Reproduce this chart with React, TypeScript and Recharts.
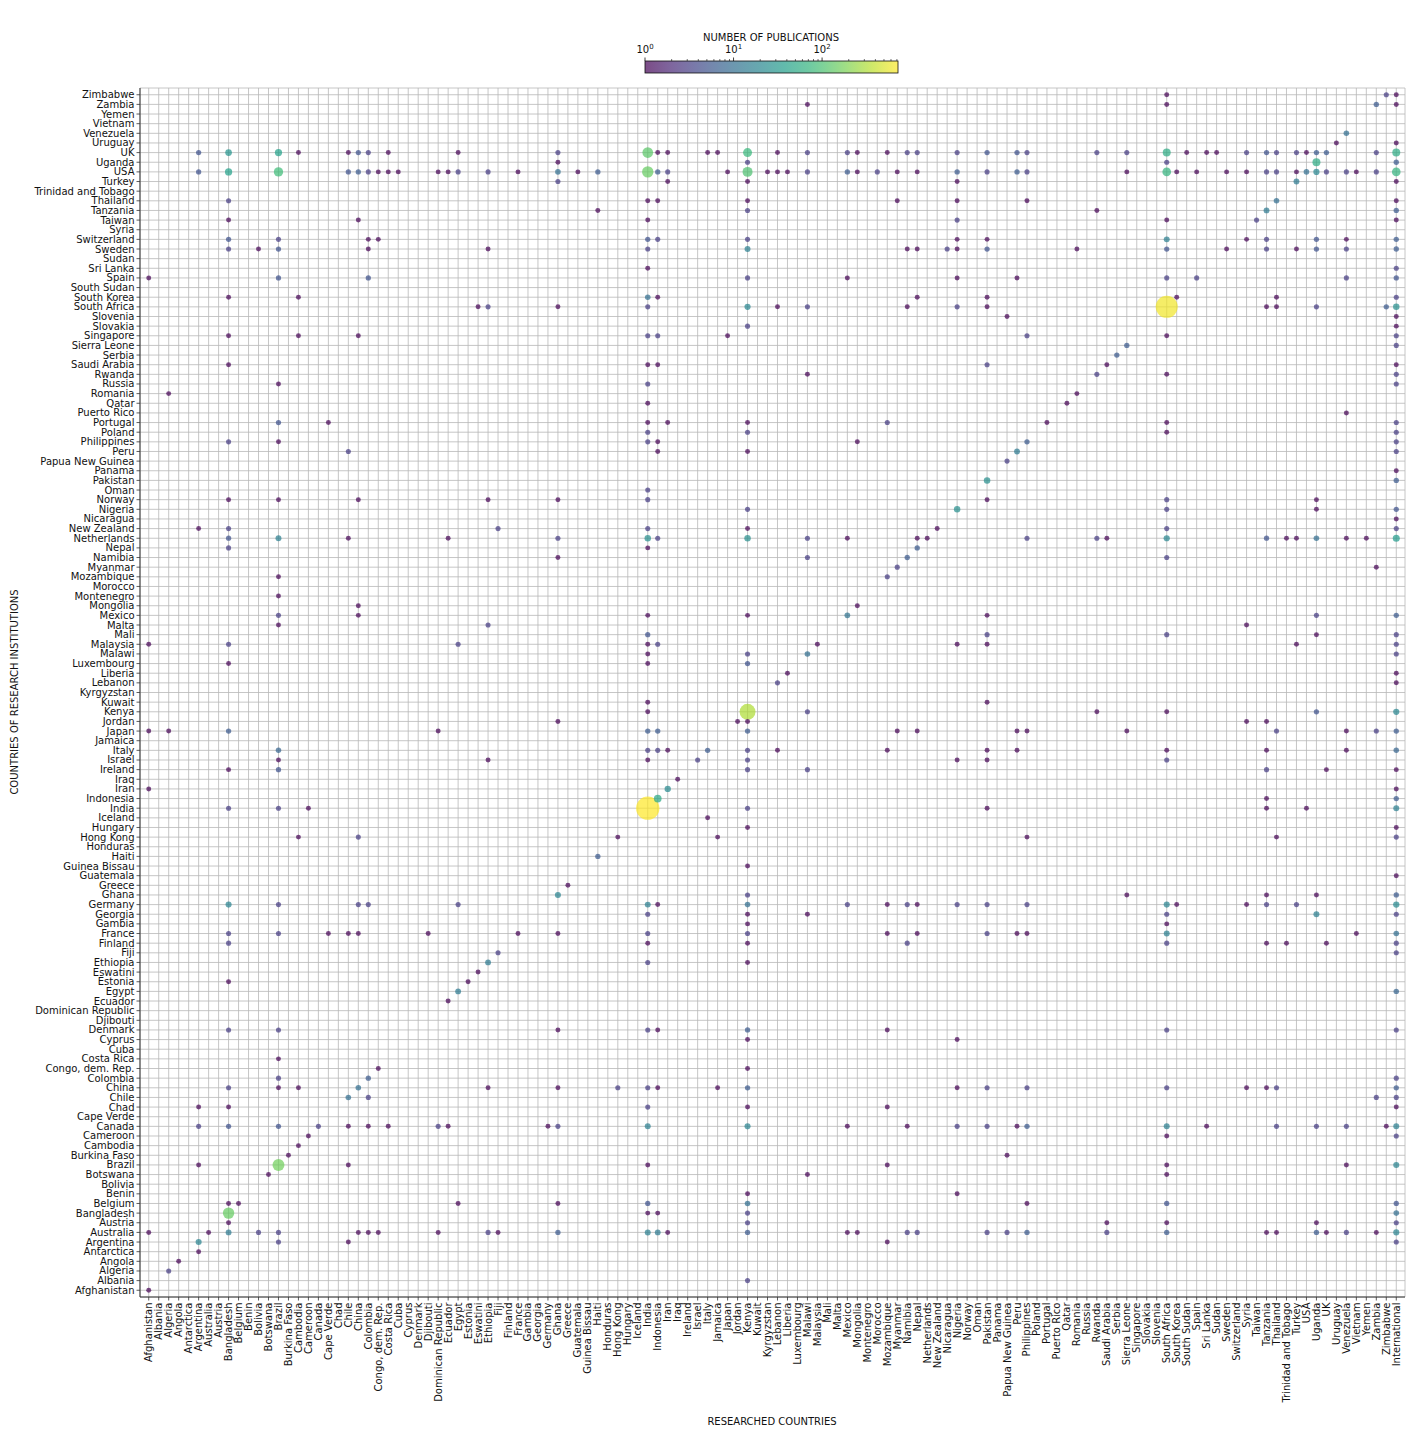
import React from "react";
import { ScatterChart, Scatter, XAxis, YAxis, CartesianGrid } from "recharts";

// ---------- categories ----------
const countries: string[] = [
  "Afghanistan","Albania","Algeria","Angola","Antarctica","Argentina","Australia","Austria","Bangladesh","Belgium",
  "Benin","Bolivia","Botswana","Brazil","Burkina Faso","Cambodia","Cameroon","Canada","Cape Verde","Chad",
  "Chile","China","Colombia","Congo, dem. Rep.","Costa Rica","Cuba","Cyprus","Denmark","Djibouti","Dominican Republic",
  "Ecuador","Egypt","Estonia","Eswatini","Ethiopia","Fiji","Finland","France","Gambia","Georgia",
  "Germany","Ghana","Greece","Guatemala","Guinea Bissau","Haiti","Honduras","Hong Kong","Hungary","Iceland",
  "India","Indonesia","Iran","Iraq","Ireland","Israel","Italy","Jamaica","Japan","Jordan",
  "Kenya","Kuwait","Kyrgyzstan","Lebanon","Liberia","Luxembourg","Malawi","Malaysia","Mali","Malta",
  "Mexico","Mongolia","Montenegro","Morocco","Mozambique","Myanmar","Namibia","Nepal","Netherlands","New Zealand",
  "Nicaragua","Nigeria","Norway","Oman","Pakistan","Panama","Papua New Guinea","Peru","Philippines","Poland",
  "Portugal","Puerto Rico","Qatar","Romania","Russia","Rwanda","Saudi Arabia","Serbia","Sierra Leone","Singapore",
  "Slovakia","Slovenia","South Africa","South Korea","South Sudan","Spain","Sri Lanka","Sudan","Sweden","Switzerland",
  "Syria","Taiwan","Tanzania","Thailand","Trinidad and Tobago","Turkey","USA","Uganda","UK","Uruguay",
  "Venezuela","Vietnam","Yemen","Zambia","Zimbabwe"
];
const researchedCountries: string[] = [...countries, "International"];
const institutionCountries: string[] = countries;

// colour bar
const colorbarMax = 720;
const colorbarMajorTicks = [1, 10, 100];

// ---------- publications: [institution country, [[researched country, count], ...]] ----------
type Row = [string, [string, number][]];

const pubsAtoG: Row[] = [
  ["Afghanistan", [["Afghanistan",1]]],
  ["Albania", [["Kenya",3]]],
  ["Algeria", [["Algeria",3]]],
  ["Angola", [["Angola",1]]],
  ["Antarctica", [["Argentina",1]]],
  ["Argentina", [["Argentina",18],["Brazil",3],["Chile",1],["Mozambique",1],["International",3]]],
  ["Australia", [["Afghanistan",1],["Australia",1],["Bangladesh",14],["Bolivia",3],["Brazil",3],["China",1],["Colombia",1],["Congo, dem. Rep.",1],["Dominican Republic",1],["Ethiopia",3],["Fiji",1],["Ghana",6],["India",16],["Indonesia",14],["Iran",1],["Kenya",6],["Mexico",1],["Mongolia",1],["Namibia",3],["Nepal",3],["Pakistan",3],["Papua New Guinea",3],["Philippines",6],["Saudi Arabia",3],["South Africa",6],["Tanzania",1],["Thailand",1],["Uganda",6],["UK",1],["Venezuela",3],["Zambia",1],["International",18]]],
  ["Austria", [["Bangladesh",1],["Kenya",3],["Saudi Arabia",1],["South Africa",1],["Uganda",1],["International",3]]],
  ["Bangladesh", [["Bangladesh",145],["India",1],["Indonesia",1],["Kenya",3],["International",10]]],
  ["Belgium", [["Bangladesh",1],["Belgium",1],["Egypt",1],["Ghana",1],["India",5],["Kenya",10],["Philippines",1],["South Africa",5],["International",5]]],
  ["Benin", [["Kenya",1],["Nigeria",1]]],
  ["Botswana", [["Botswana",1],["Malawi",1],["South Africa",1]]],
  ["Brazil", [["Argentina",1],["Brazil",165],["Chile",1],["India",1],["Mozambique",1],["South Africa",1],["Venezuela",1],["International",18]]],
  ["Burkina Faso", [["Burkina Faso",1],["Papua New Guinea",1]]],
  ["Cambodia", [["Cambodia",1]]],
  ["Cameroon", [["Cameroon",1],["South Africa",1],["International",3]]],
  ["Canada", [["Argentina",3],["Bangladesh",5],["Brazil",5],["Canada",3],["Chile",1],["Colombia",1],["Costa Rica",1],["Dominican Republic",3],["Ecuador",1],["Germany",1],["Ghana",3],["India",16],["Kenya",18],["Mexico",1],["Namibia",1],["Nigeria",3],["Pakistan",3],["Peru",1],["Philippines",6],["South Africa",16],["Sri Lanka",1],["Thailand",3],["Uganda",3],["Venezuela",3],["Zimbabwe",1],["International",16]]],
  ["Chad", [["Argentina",1],["Bangladesh",1],["India",3],["Kenya",1],["Mozambique",1],["International",1]]],
  ["Chile", [["Chile",10],["Colombia",3],["Zambia",3],["International",3]]],
  ["China", [["Bangladesh",3],["Brazil",1],["Cambodia",1],["China",10],["Ethiopia",1],["Ghana",1],["Hong Kong",3],["India",3],["Indonesia",1],["Jamaica",1],["Kenya",6],["Nigeria",1],["Pakistan",3],["Philippines",3],["South Africa",3],["Syria",1],["Tanzania",1],["Thailand",3],["International",6]]],
  ["Colombia", [["Brazil",3],["Colombia",6],["International",3]]],
  ["Congo, dem. Rep.", [["Congo, dem. Rep.",1],["Kenya",1]]],
  ["Costa Rica", [["Brazil",1]]],
  ["Cyprus", [["Kenya",1],["Nigeria",1]]],
  ["Denmark", [["Bangladesh",3],["Brazil",3],["Ghana",1],["India",3],["Indonesia",1],["Kenya",6],["Mozambique",1],["South Africa",3],["International",3]]],
  ["Ecuador", [["Ecuador",1]]],
  ["Egypt", [["Egypt",14],["International",8]]],
  ["Estonia", [["Bangladesh",1],["Estonia",1]]],
  ["Eswatini", [["Eswatini",1]]],
  ["Ethiopia", [["Ethiopia",14],["India",3],["Kenya",1]]],
  ["Fiji", [["Fiji",3],["International",3]]],
  ["Finland", [["Bangladesh",3],["India",1],["Kenya",1],["Namibia",3],["South Africa",3],["Tanzania",1],["Trinidad and Tobago",1],["UK",1],["International",3]]],
  ["France", [["Bangladesh",3],["Brazil",3],["Cape Verde",1],["Chile",1],["China",1],["Djibouti",1],["France",1],["Ghana",1],["India",3],["Kenya",3],["Mozambique",1],["Nepal",1],["Pakistan",3],["Peru",1],["Philippines",1],["South Africa",16],["Vietnam",1],["International",10]]],
  ["Gambia", [["Kenya",1],["South Africa",1]]],
  ["Georgia", [["India",3],["Kenya",1],["Malawi",1],["South Africa",3],["Uganda",16],["International",3]]],
  ["Germany", [["Bangladesh",18],["Brazil",3],["China",3],["Colombia",3],["Egypt",3],["India",16],["Indonesia",1],["Kenya",10],["Mexico",3],["Mozambique",1],["Namibia",3],["Nepal",1],["Nigeria",3],["Pakistan",3],["Philippines",3],["South Africa",18],["South Korea",1],["Syria",1],["Tanzania",3],["Turkey",3],["International",22]]],
  ["Ghana", [["Ghana",18],["Kenya",3],["Sierra Leone",1],["Tanzania",1],["Uganda",1],["International",6]]],
  ["Greece", [["Greece",1]]],
  ["Guatemala", [["International",1]]],
  ["Guinea Bissau", [["Kenya",1]]],
];

const pubsHtoN: Row[] = [
  ["Haiti", [["Haiti",6]]],
  ["Hong Kong", [["Cambodia",1],["China",3],["Hong Kong",1],["Jamaica",1],["Philippines",1],["Thailand",1],["International",3]]],
  ["Hungary", [["Kenya",1],["International",1]]],
  ["Iceland", [["Italy",1]]],
  ["India", [["Bangladesh",3],["Brazil",3],["Cameroon",1],["India",720],["Kenya",3],["Pakistan",1],["Tanzania",1],["USA",1],["International",16]]],
  ["Indonesia", [["Indonesia",50],["Tanzania",1],["International",6]]],
  ["Iran", [["Afghanistan",1],["Iran",22],["International",1]]],
  ["Iraq", [["Iraq",1]]],
  ["Ireland", [["Bangladesh",1],["Brazil",5],["Kenya",3],["Malawi",3],["Tanzania",3],["UK",1],["International",1]]],
  ["Israel", [["Brazil",1],["Ethiopia",1],["India",1],["Israel",3],["Kenya",3],["Nigeria",1],["Pakistan",1],["South Africa",3]]],
  ["Italy", [["Brazil",8],["India",3],["Indonesia",3],["Iran",1],["Italy",6],["Kenya",3],["Lebanon",1],["Mozambique",1],["Pakistan",1],["Peru",1],["South Africa",1],["Tanzania",1],["Venezuela",1],["International",8]]],
  ["Japan", [["Afghanistan",1],["Algeria",1],["Bangladesh",6],["Dominican Republic",1],["India",6],["Indonesia",6],["Kenya",6],["Myanmar",1],["Nepal",1],["Peru",1],["Philippines",1],["Sierra Leone",1],["Thailand",3],["Venezuela",1],["Zambia",3],["International",6]]],
  ["Jordan", [["Ghana",1],["Jordan",1],["Kenya",1],["Syria",1],["Tanzania",1]]],
  ["Kenya", [["India",1],["Kenya",320],["Malawi",3],["Rwanda",1],["South Africa",1],["Uganda",5],["International",20]]],
  ["Kuwait", [["India",1],["Pakistan",1]]],
  ["Lebanon", [["Lebanon",3],["International",1]]],
  ["Liberia", [["Liberia",1],["International",1]]],
  ["Luxembourg", [["Bangladesh",1],["India",1],["Kenya",5]]],
  ["Malawi", [["India",1],["Kenya",3],["Malawi",10],["International",3]]],
  ["Malaysia", [["Afghanistan",1],["Bangladesh",3],["Egypt",3],["India",1],["Indonesia",3],["Malaysia",1],["Nigeria",1],["Pakistan",1],["Turkey",1],["International",3]]],
  ["Mali", [["India",5],["Pakistan",3],["South Africa",3],["Uganda",1],["International",3]]],
  ["Malta", [["Brazil",1],["Ethiopia",3],["Syria",1]]],
  ["Mexico", [["Brazil",3],["China",1],["India",1],["Kenya",1],["Mexico",12],["Pakistan",1],["Uganda",3],["International",6]]],
  ["Mongolia", [["China",1],["Mongolia",1]]],
  ["Montenegro", [["Brazil",1]]],
  ["Mozambique", [["Brazil",1],["Mozambique",3]]],
  ["Myanmar", [["Myanmar",3],["Zambia",1]]],
  ["Namibia", [["Ghana",1],["Malawi",3],["Namibia",6],["South Africa",3]]],
  ["Nepal", [["Bangladesh",3],["India",1],["Nepal",6]]],
  ["Netherlands", [["Bangladesh",5],["Brazil",16],["Chile",1],["Ecuador",1],["Ghana",3],["India",25],["Indonesia",3],["Kenya",25],["Malawi",3],["Mexico",1],["Nepal",1],["Netherlands",1],["Philippines",3],["Rwanda",3],["Saudi Arabia",1],["South Africa",20],["Tanzania",5],["Trinidad and Tobago",1],["Turkey",1],["Uganda",10],["Venezuela",1],["Yemen",1],["International",35]]],
  ["New Zealand", [["Argentina",1],["Bangladesh",3],["Fiji",3],["India",3],["Kenya",1],["New Zealand",1],["South Africa",3],["International",3]]],
  ["Nicaragua", [["International",1]]],
  ["Nigeria", [["Kenya",3],["Nigeria",25],["South Africa",3],["Uganda",1],["International",5]]],
  ["Norway", [["Bangladesh",1],["Brazil",1],["China",1],["Ethiopia",1],["Ghana",1],["India",3],["Pakistan",1],["South Africa",3],["Uganda",1]]],
];

const pubsOtoS: Row[] = [
  ["Oman", [["India",3]]],
  ["Pakistan", [["Pakistan",25],["International",6]]],
  ["Panama", [["International",1]]],
  ["Papua New Guinea", [["Papua New Guinea",3]]],
  ["Peru", [["Chile",3],["Indonesia",1],["Kenya",1],["Peru",14],["International",3]]],
  ["Philippines", [["Bangladesh",3],["Brazil",1],["India",3],["Indonesia",1],["Mongolia",1],["Philippines",6],["International",3]]],
  ["Poland", [["India",3],["Kenya",3],["South Africa",1],["International",3]]],
  ["Portugal", [["Brazil",5],["Cape Verde",1],["India",1],["Iran",1],["Kenya",1],["Mozambique",3],["Portugal",1],["South Africa",1],["International",3]]],
  ["Puerto Rico", [["Venezuela",1]]],
  ["Qatar", [["India",1],["Qatar",1]]],
  ["Romania", [["Algeria",1],["Romania",1]]],
  ["Russia", [["Brazil",1],["India",3],["International",3]]],
  ["Rwanda", [["Malawi",1],["Rwanda",3],["South Africa",1],["International",3]]],
  ["Saudi Arabia", [["Bangladesh",1],["India",1],["Indonesia",1],["Pakistan",3],["Saudi Arabia",1],["International",1]]],
  ["Serbia", [["Serbia",6]]],
  ["Sierra Leone", [["Sierra Leone",6],["International",3]]],
  ["Singapore", [["Bangladesh",1],["Cambodia",1],["China",1],["India",3],["Indonesia",3],["Japan",1],["Philippines",3],["South Africa",1],["International",3]]],
  ["Slovakia", [["Kenya",3],["International",1]]],
  ["Slovenia", [["Papua New Guinea",1],["International",1]]],
  ["South Africa", [["Eswatini",1],["Ethiopia",3],["Ghana",1],["India",3],["Kenya",20],["Lebanon",1],["Malawi",3],["Namibia",1],["Nigeria",3],["Pakistan",1],["South Africa",640],["Tanzania",1],["Thailand",1],["Uganda",3],["Zimbabwe",6],["International",25]]],
  ["South Korea", [["Bangladesh",1],["Cambodia",1],["India",10],["Indonesia",1],["Nepal",1],["Pakistan",1],["South Korea",1],["Thailand",1],["International",3]]],
  ["Spain", [["Afghanistan",1],["Brazil",5],["Colombia",5],["Kenya",3],["Mexico",1],["Nigeria",1],["Peru",1],["South Africa",3],["Spain",3],["Venezuela",3],["International",5]]],
  ["Sri Lanka", [["India",1],["International",3]]],
  ["Sweden", [["Bangladesh",3],["Bolivia",1],["Brazil",5],["Colombia",1],["Ethiopia",1],["India",3],["Kenya",16],["Namibia",1],["Nepal",1],["Nicaragua",3],["Nigeria",1],["Pakistan",5],["Romania",1],["South Africa",5],["Sweden",1],["Tanzania",3],["Turkey",1],["Uganda",5],["Venezuela",3],["International",6]]],
  ["Switzerland", [["Bangladesh",5],["Brazil",3],["Colombia",1],["Congo, dem. Rep.",1],["India",5],["Indonesia",3],["Kenya",3],["Nigeria",1],["Pakistan",1],["South Africa",16],["Syria",1],["Tanzania",3],["Uganda",5],["Venezuela",1],["International",6]]],
];

const pubsTtoZ: Row[] = [
  ["Taiwan", [["Bangladesh",1],["China",1],["India",1],["Nigeria",3],["South Africa",1],["Taiwan",3],["International",1]]],
  ["Tanzania", [["Haiti",1],["Kenya",3],["Rwanda",1],["Tanzania",14],["International",6]]],
  ["Thailand", [["Bangladesh",3],["India",1],["Indonesia",1],["Kenya",1],["Myanmar",1],["Nigeria",1],["Philippines",1],["Thailand",10],["International",1]]],
  ["Turkey", [["Ghana",3],["Iran",1],["Kenya",1],["Nigeria",1],["Turkey",14],["International",1]]],
  ["USA", [["Argentina",5],["Bangladesh",40],["Brazil",87],["Chile",5],["China",6],["Colombia",3],["Congo, dem. Rep.",1],["Costa Rica",1],["Cuba",1],["Dominican Republic",1],["Ecuador",1],["Egypt",3],["Ethiopia",3],["France",1],["Ghana",10],["Guatemala",1],["Haiti",6],["India",145],["Indonesia",6],["Iran",3],["Japan",1],["Kenya",105],["Kyrgyzstan",1],["Lebanon",1],["Liberia",1],["Malawi",3],["Mexico",6],["Mongolia",1],["Morocco",3],["Myanmar",1],["Nepal",1],["Nigeria",6],["Pakistan",3],["Peru",6],["Philippines",3],["Sierra Leone",1],["South Africa",70],["South Korea",1],["Spain",1],["Sweden",1],["Syria",1],["Tanzania",3],["Thailand",3],["Turkey",1],["USA",10],["Uganda",20],["UK",3],["Venezuela",3],["Vietnam",1],["Zambia",3],["International",70]]],
  ["Uganda", [["Ghana",1],["Kenya",3],["South Africa",3],["Uganda",55],["International",6]]],
  ["UK", [["Argentina",5],["Bangladesh",29],["Brazil",40],["Cambodia",1],["Chile",1],["China",5],["Colombia",3],["Costa Rica",1],["Egypt",1],["Ghana",3],["India",125],["Indonesia",1],["Iran",1],["Italy",1],["Jamaica",1],["Kenya",80],["Lebanon",1],["Malawi",3],["Mexico",3],["Mongolia",1],["Mozambique",1],["Namibia",3],["Nepal",3],["Nigeria",3],["Pakistan",5],["Peru",5],["Philippines",3],["Rwanda",3],["Sierra Leone",3],["South Africa",55],["South Sudan",1],["Sri Lanka",1],["Sudan",1],["Syria",3],["Tanzania",5],["Thailand",3],["Turkey",3],["USA",1],["Uganda",6],["UK",6],["Zambia",3],["International",55]]],
  ["Uruguay", [["Uruguay",1],["International",1]]],
  ["Venezuela", [["Venezuela",10]]],
  ["Zambia", [["Malawi",1],["South Africa",1],["Zambia",6],["International",1]]],
  ["Zimbabwe", [["South Africa",1],["Zimbabwe",3],["International",1]]],
];

// ---------- helpers ----------
const VIRIDIS = ["#440154","#482878","#3e4989","#31688e","#26828e","#1f9e89","#35b779","#6ece58","#b5de2b","#fde725"];
function hexToRgb(h: string) {
  return [parseInt(h.slice(1, 3), 16), parseInt(h.slice(3, 5), 16), parseInt(h.slice(5, 7), 16)];
}
function viridisAt(t: number): string {
  const c = Math.max(0, Math.min(1, t)) * (VIRIDIS.length - 1);
  const i = Math.min(Math.floor(c), VIRIDIS.length - 2);
  const f = c - i;
  const a = hexToRgb(VIRIDIS[i]);
  const b = hexToRgb(VIRIDIS[i + 1]);
  const m = a.map((v, k) => Math.round(v + (b[k] - v) * f));
  return `rgb(${m[0]},${m[1]},${m[2]})`;
}
const logMax = Math.log10(colorbarMax);
const colorFor = (v: number) => viridisAt(Math.log10(v) / logMax);
const radiusFor = (v: number) => Math.sqrt(24 + 0.72 * v) / 2;

const points = [...pubsAtoG, ...pubsHtoN, ...pubsOtoS, ...pubsTtoZ]
  .flatMap(([inst, list]) =>
    list.map(([res, count]) => ({
      x: researchedCountries.indexOf(res),
      y: institutionCountries.indexOf(inst),
      v: count,
    }))
  )
  .filter((p) => p.x >= 0 && p.y >= 0)
  .sort((a, b) => b.v - a.v);

const xTicks = researchedCountries.map((_, i) => i);
const yTicks = institutionCountries.map((_, i) => i);

const FONT = "DejaVu Sans, Verdana, sans-serif";

const XTick = (props: any) => {
  const { x, y, payload } = props;
  return (
    <text
      transform={`translate(${x},${y}) rotate(-90)`}
      textAnchor="end"
      dominantBaseline="central"
      fontSize={10}
      fontFamily={FONT}
      fill="#111"
    >
      {researchedCountries[payload.value]}
    </text>
  );
};

const YTick = (props: any) => {
  const { x, y, payload } = props;
  return (
    <text x={x} y={y} textAnchor="end" dominantBaseline="central" fontSize={10} fontFamily={FONT} fill="#111">
      {institutionCountries[payload.value]}
    </text>
  );
};

const renderDot = (p: any) => {
  if (p.cx == null || p.cy == null) return <g />;
  const v = p.payload.v;
  return <circle cx={p.cx} cy={p.cy} r={radiusFor(v)} fill={colorFor(v)} fillOpacity={0.7} stroke="none" />;
};

// colour bar geometry
const CB_X0 = 645;
const CB_X1 = 898;
const CB_Y0 = 61;
const CB_Y1 = 73;
const cbX = (v: number) => CB_X0 + (Math.log10(v) / logMax) * (CB_X1 - CB_X0);
const minorTicks: number[] = [];
for (let d = 0; d < 3; d++) {
  for (let m = 2; m <= 9; m++) {
    const v = m * Math.pow(10, d);
    if (v <= colorbarMax) minorTicks.push(v);
  }
}
const gradStops = Array.from({ length: 21 }, (_, i) => i / 20);

export default function App() {
  return (
    <div style={{ position: "absolute", left: 0, top: 0, width: 1413, height: 1443, background: "#fff" }}>
      <ScatterChart width={1413} height={1443} margin={{ top: 88, right: 8, bottom: 0, left: 10 }}>
        <CartesianGrid stroke="#b8b8b8" strokeWidth={0.8} />
        <XAxis
          type="number"
          dataKey="x"
          domain={[-0.875, 125.875]}
          ticks={xTicks}
          interval={0}
          height={146}
          tickSize={3.5}
          tickMargin={2}
          axisLine={{ stroke: "#333", strokeWidth: 1 }}
          tickLine={{ stroke: "#333", strokeWidth: 0.8 }}
          tick={<XTick />}
          allowDataOverflow
        />
        <YAxis
          type="number"
          dataKey="y"
          domain={[-0.7, 124.7]}
          ticks={yTicks}
          interval={0}
          width={130}
          tickSize={3.5}
          tickMargin={2}
          axisLine={{ stroke: "#333", strokeWidth: 1 }}
          tickLine={{ stroke: "#333", strokeWidth: 0.8 }}
          tick={<YTick />}
          allowDataOverflow
        />
        <Scatter data={points} isAnimationActive={false} shape={renderDot} />
      </ScatterChart>
      <svg
        width={1413}
        height={1443}
        style={{ position: "absolute", left: 0, top: 0, pointerEvents: "none" }}
      >
        <defs>
          <linearGradient id="cbGrad" x1="0" y1="0" x2="1" y2="0">
            {gradStops.map((t) => (
              <stop key={t} offset={t} stopColor={viridisAt(t)} />
            ))}
          </linearGradient>
        </defs>
        <text x={771} y={41} textAnchor="middle" fontSize={10} fontFamily={FONT} fill="#111">
          NUMBER OF PUBLICATIONS
        </text>
        <rect x={CB_X0} y={CB_Y0} width={CB_X1 - CB_X0} height={CB_Y1 - CB_Y0} fill="url(#cbGrad)" fillOpacity={0.7} />
        <rect x={CB_X0} y={CB_Y0} width={CB_X1 - CB_X0} height={CB_Y1 - CB_Y0} fill="none" stroke="#111" strokeWidth={0.8} />
        {colorbarMajorTicks.map((v, i) => (
          <g key={v}>
            <line x1={cbX(v)} x2={cbX(v)} y1={CB_Y0} y2={CB_Y0 - 3.5} stroke="#111" strokeWidth={0.8} />
            <text x={cbX(v)} y={53} textAnchor="middle" fontSize={10} fontFamily={FONT} fill="#111">
              10<tspan fontSize={7} dy={-4}>{i}</tspan>
            </text>
          </g>
        ))}
        {minorTicks.map((v) => (
          <line key={v} x1={cbX(v)} x2={cbX(v)} y1={CB_Y0} y2={CB_Y0 - 2} stroke="#111" strokeWidth={0.6} />
        ))}
        <text x={772} y={1425} textAnchor="middle" fontSize={10} fontFamily={FONT} fill="#111">
          RESEARCHED COUNTRIES
        </text>
        <text
          transform="translate(18,692) rotate(-90)"
          textAnchor="middle"
          fontSize={10}
          fontFamily={FONT}
          fill="#111"
        >
          COUNTRIES OF RESEARCH INSTITUTIONS
        </text>
      </svg>
    </div>
  );
}
